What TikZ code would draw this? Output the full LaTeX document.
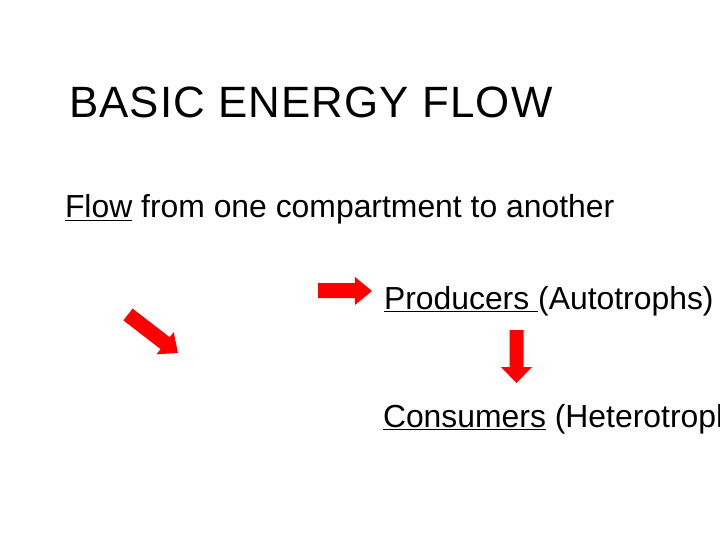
\documentclass[tikz,border=0pt]{standalone}
\usepackage{fontspec}
\setmainfont{Liberation Sans}
\newfontfamily\titlefont[LetterSpace=2.6]{Liberation Sans}
\definecolor{arrowred}{RGB}{255,0,0}
\tikzset{
  txt/.style={anchor=base west, inner sep=0pt, outer sep=0pt, font=\fontsize{32}{38}\selectfont},
  ttl/.style={anchor=base west, inner sep=0pt, outer sep=0pt, font=\titlefont\fontsize{44}{52}\selectfont},
  fatarrow/.style={fill=arrowred, draw=none}
}
\newcommand{\ul}[1]{\underline{#1}}
\begin{document}
\begin{tikzpicture}[x=1bp,y=-1bp]
\useasboundingbox (0,0) rectangle (720,540);
\fill[white] (0,0) rectangle (720,540);
\node[ttl] (title) at (69,118) {BASIC ENERGY FLOW};
\node[txt] (flow) at (65,218) {\ul{Flow} from one compartment to another};
\node[txt] (prod) at (384,309) {\ul{Producers\ }(Autotrophs)};
\node[txt] (cons) at (383,427) {\ul{Consumers} (Heterotrophs)};
% right arrow
\fill[fatarrow] (318,283) -- (355,283) -- (355,277) -- (372,291) -- (355,305) -- (355,298) -- (318,298) -- cycle;
% down arrow
\fill[fatarrow] (509.5,330) -- (523.5,330) -- (523.5,367) -- (532,367) -- (516.5,383) -- (501,367) -- (509.5,367) -- cycle;
% diagonal arrow
\fill[fatarrow] (123.4,320.4) -- (132.6,308.6) -- (169.8,337.3) -- (173.7,332.1) -- (178,353) -- (156.7,354.3) -- (160.6,349.1) -- cycle;
\end{tikzpicture}
\end{document}
